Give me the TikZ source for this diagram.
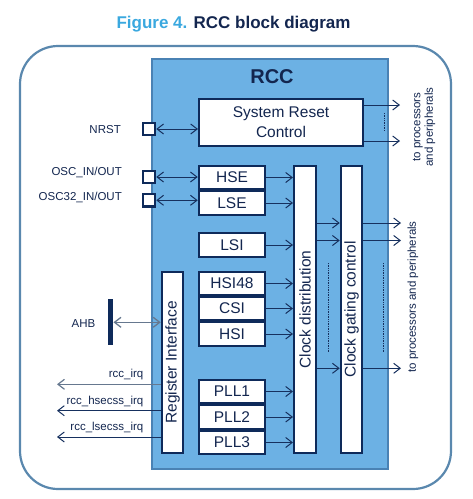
\documentclass[tikz,border=0pt]{standalone}
\usepackage{fontspec}
\setmainfont{Liberation Sans}
\usepackage{graphicx}
\usetikzlibrary{arrows.meta}
\definecolor{navy}{HTML}{0E2A5A}
\definecolor{textc}{HTML}{13264F}
\definecolor{linec}{HTML}{16305E}
\definecolor{greyc}{HTML}{66788F}
\definecolor{rccblue}{HTML}{6CB1E4}
\definecolor{rccborder}{HTML}{4A82B4}
\definecolor{outerc}{HTML}{5A88AE}
\definecolor{titleblue}{HTML}{3AA8DF}
\begin{document}
\begin{tikzpicture}[x=1pt,y=-1pt,
  box/.style={draw=navy, line width=2pt, fill=white, inner sep=0pt, text=textc, font=\fontsize{15.5}{20}\selectfont},
  pad/.style={draw=navy, line width=2.2pt, fill=white, minimum size=12.3pt, inner sep=0pt},
  arr/.style={draw=linec, line width=1pt, -{Straight Barb[length=6.5pt,width=10pt]}},
  darr/.style={draw=linec, line width=1pt, {Straight Barb[length=6.5pt,width=10pt]}-{Straight Barb[length=6.5pt,width=10pt]}},
  lbl/.style={text=textc, font=\fontsize{11.5}{12.5}\selectfont, inner sep=0pt},
  dots/.style={draw=linec, line width=0.6pt, dash pattern=on 0.8pt off 0.9pt}]
\useasboundingbox (0,0) rectangle (473,499);
% title
\node[text=textc, font=\fontsize{17}{20}\selectfont\bfseries] (title) at (233.5,24) {\textcolor{titleblue}{Figure 4.} RCC block diagram};
% outer frame
\draw[outerc, line width=2.2pt, rounded corners=38pt] (20,46) rectangle (451,489);
% RCC block
\node[draw=rccborder, fill=rccblue, line width=2pt, minimum width=236pt, minimum height=410pt, inner sep=0pt] (rcc) at (270,264) {};
\node[text=textc, font=\fontsize{20}{24}\selectfont\bfseries] (rcctitle) at (272,76.5) {RCC};
% boxes
\node[box, minimum width=164pt, minimum height=47pt, align=center] (src) at (281,122.5) {System Reset\\Control};
\node[box, minimum width=66.5pt, minimum height=23.5pt] (hse) at (232,177.5) {HSE};
\node[box, minimum width=66.5pt, minimum height=24pt] (lse) at (232,203) {LSE};
\node[box, minimum width=66.5pt, minimum height=24pt] (lsi) at (232,245) {LSI};
\node[box, minimum width=66.5pt, minimum height=23.5pt] (hsi48) at (232,283.5) {HSI48};
\node[box, minimum width=66.5pt, minimum height=23.5pt] (csi) at (232,308.5) {CSI};
\node[box, minimum width=66.5pt, minimum height=24pt] (hsi) at (232,334) {HSI};
\node[box, minimum width=66.5pt, minimum height=23.5pt] (pll1) at (232,391.5) {PLL1};
\node[box, minimum width=66.5pt, minimum height=24pt] (pll2) at (232,417) {PLL2};
\node[box, minimum width=66.5pt, minimum height=23.5pt] (pll3) at (232,442.5) {PLL3};
\node[box, minimum width=22pt, minimum height=287pt] (cd) at (305,309.5) {\rotatebox{90}{Clock distribution}};
\node[box, minimum width=21.5pt, minimum height=287pt] (cg) at (351.5,309.5) {\rotatebox{90}{Clock gating control}};
\node[box, minimum width=21.5pt, minimum height=181pt] (ri) at (172.5,362.5) {\rotatebox{90}{Register Interface}};
% pads
\node[pad] (nrst) at (149,129) {};
\node[pad] (osc) at (149,177) {};
\node[pad] (osc32) at (149,200.3) {};
\node[lbl, anchor=base east] (nrstl) at (121,133.3) {NRST};
\node[lbl, anchor=base east] (oscl) at (122,175.7) {OSC\_IN/OUT};
\node[lbl, anchor=base east] (osc32l) at (122,200.5) {OSC32\_IN/OUT};
% AHB
\node[fill=navy, minimum width=5.5pt, minimum height=46pt, inner sep=0pt] (ahb) at (110.5,322.3) {};
\node[lbl, anchor=base east] (ahbl) at (95.5,327.3) {AHB};
\draw[darr, draw=greyc, line width=1.3pt] (ahb.east) -- (ahb -| ri.west);
% pad arrows
\draw[darr] (nrst.east) -- (nrst -| src.west);
\draw[darr] (osc.east) -- (osc -| hse.west);
\draw[darr] (osc32.east) -- (osc32 -| lse.west);
% sources to clock distribution
\foreach \b in {hse,lse,lsi,hsi48,csi,hsi,pll1,pll2,pll3}
  \draw[arr] (\b.east) -- (\b -| cd.west);
% free ends
\coordinate (r1) at (400,105);
\coordinate (r2) at (400,141);
\coordinate (g1) at (401,223);
\coordinate (g2) at (401,240.5);
\coordinate (g3) at (401,368.3);
\coordinate (q1) at (57,384.3);
\coordinate (q2) at (57,410.7);
\coordinate (q3) at (57,437);
% SRC outputs
\draw[arr] (src.east |- r1) -- (r1);
\draw[arr] (src.east |- r2) -- (r2);
\draw[dots] (384,113) -- (384,131);
% distribution to gating and outputs
\foreach \g in {g1,g2,g3} {
  \draw[arr] (cd.east |- \g) -- (cg.west |- \g);
  \draw[arr] (cg.east |- \g) -- (\g);
}
\draw[dots] (328,263) -- (328,353);
\draw[dots] (383,263) -- (383,353);
% IRQs
\draw[arr, draw=greyc, line width=1.2pt] (ri.west |- q1) -- (q1);
\draw[arr] (ri.west |- q2) -- (q2);
\draw[arr] (ri.west |- q3) -- (q3);
\node[lbl, anchor=base east] (q1l) at (143.5,377.7) {rcc\_irq};
\node[lbl, anchor=base east] (q2l) at (143.5,404) {rcc\_hsecss\_irq};
\node[lbl, anchor=base east] (q3l) at (143.5,430.7) {rcc\_lsecss\_irq};
% right labels
\node[lbl, rotate=90, align=center] (pp1) at (424,127) {to processors\\and peripherals};
\node[lbl, rotate=90] (pp2) at (413,297) {to processors and peripherals};
\end{tikzpicture}
\end{document}
